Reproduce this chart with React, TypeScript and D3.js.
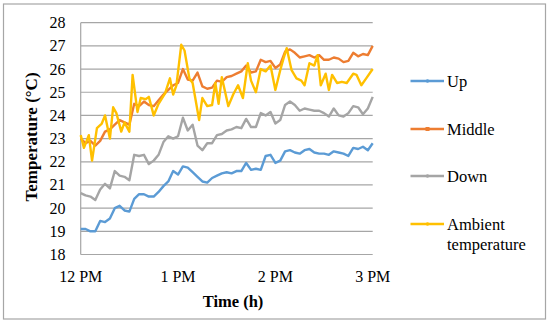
import * as d3 from 'd3';
import React, { useRef, useEffect } from 'react';

const width = 550;
const height = 323;
const plot = { left: 80.7, right: 372.7, top: 22.7, bottom: 254.5 };

// minutes after 12 PM, every 3 minutes
const minutes = d3.range(0, 181, 3);
const timeTicks = [0, 60, 120, 180];
const timeLabels = ['12 PM', '1 PM', '2 PM', '3 PM'];
const tempTicks = [18, 19, 20, 21, 22, 23, 24, 25, 26, 27, 28];

const up = [19.1, 19.1, 19.0, 19.0, 19.45, 19.4, 19.55, 20.0, 20.1, 19.9,
    19.85, 20.4, 20.6, 20.6, 20.5, 20.5, 20.7, 20.95, 21.15, 21.6,
    21.45, 21.8, 21.75, 21.55, 21.35, 21.15, 21.1, 21.3, 21.4, 21.5,
    21.55, 21.5, 21.6, 21.6, 21.95, 21.65, 21.7, 21.65, 22.25, 22.3,
    21.95, 22.05, 22.45, 22.5, 22.4, 22.35, 22.5, 22.55, 22.4, 22.35,
    22.35, 22.3, 22.45, 22.4, 22.35, 22.25, 22.6, 22.55, 22.65, 22.5, 22.8];

const middle = [23.0, 22.8, 22.9, 22.7, 22.9, 23.3, 23.4, 23.6, 23.8, 23.7,
    23.6, 24.5, 24.4, 24.6, 24.45, 24.4, 24.65, 24.9, 25.1, 25.3,
    25.4, 26.0, 25.55, 25.5, 25.85, 25.25, 25.15, 25.2, 25.5, 25.45,
    25.65, 25.7, 25.8, 25.9, 26.15, 25.85, 25.9, 26.4, 26.3, 26.35,
    26.05, 26.2, 26.75, 26.85, 26.7, 26.5, 26.55, 26.6, 26.5, 26.6,
    26.4, 26.4, 26.5, 26.45, 26.3, 26.35, 26.7, 26.55, 26.65, 26.6, 27.0];

const down = [20.65, 20.55, 20.5, 20.35, 20.8, 21.05, 20.85, 21.6, 21.4, 21.35,
    21.2, 22.3, 22.25, 22.3, 21.9, 22.05, 22.3, 22.85, 23.1, 23.0,
    23.1, 23.9, 23.35, 23.6, 22.7, 22.5, 22.8, 22.8, 23.15, 23.2,
    23.35, 23.4, 23.5, 23.45, 23.85, 23.5, 23.5, 24.1, 24.0, 24.15,
    23.65, 23.8, 24.45, 24.6, 24.45, 24.2, 24.3, 24.25, 24.2, 24.2,
    24.1, 23.95, 24.3, 24.0, 23.95, 24.1, 24.4, 24.35, 24.05, 24.3, 24.8];

// ambient is spikier, read at its own times
const ambientMinutes = [0, 2, 5, 7, 10, 13, 15, 18, 20, 22,
    25, 27, 30, 32, 35, 37, 40, 42, 45, 48,
    52, 55, 57, 59, 62, 64, 67, 69, 73, 75,
    78, 81, 83, 85, 87, 91, 94, 97, 100, 103,
    105, 108, 111, 114, 117, 120, 123, 125, 127, 130,
    133, 136, 138, 141, 144, 146, 148, 151, 153, 155,
    158, 161, 164, 168, 170, 173, 176, 180];
const ambient = [23.15, 22.6, 23.15, 22.05, 23.45, 23.65, 24.0, 23.0, 24.35, 24.1,
    23.3, 23.7, 23.3, 25.75, 24.15, 24.75, 24.7, 24.8, 24.0, 24.5,
    24.95, 25.6, 24.9, 25.3, 27.05, 26.8, 25.6, 25.4, 23.8, 24.75,
    24.4, 24.45, 25.4, 24.5, 25.65, 24.4, 24.9, 25.3, 24.75, 26.25,
    25.5, 25.0, 26.0, 25.9, 26.15, 25.1, 25.95, 26.45, 26.9, 25.95,
    25.6, 25.5, 25.3, 26.25, 26.15, 26.6, 25.3, 25.8, 25.1, 25.75,
    25.4, 25.45, 25.4, 25.8, 25.75, 25.3, 25.6, 26.0];

const seriesNames = ['Up', 'Middle', 'Down', 'Ambient temperature'];
const seriesColors = ['#5b9bd5', '#ed7d31', '#a5a5a5', '#ffc000'];

const font = 'Liberation Serif, DejaVu Serif, serif';

function TempChart() {
    const ref = useRef(null);

    useEffect(() => {
        const svg = d3.select(ref.current);
        svg.selectAll('*').remove();

        const x = d3.scaleLinear().domain([0, 180]).range([plot.left, plot.right]);
        const y = d3.scaleLinear().domain([18, 28]).range([plot.bottom, plot.top]);

        svg.append('rect')
            .attr('x', 3.5).attr('y', 4)
            .attr('width', 542).attr('height', 315)
            .attr('fill', 'white')
            .attr('stroke', '#a6a6a6')
            .attr('stroke-width', 1.2);

        // gridlines
        svg.append('g')
            .selectAll('line')
            .data(tempTicks)
            .enter()
            .append('line')
            .attr('x1', plot.left).attr('x2', plot.right)
            .attr('y1', d => y(d)).attr('y2', d => y(d))
            .attr('stroke', '#a6a6a6')
            .attr('stroke-width', 1.2);

        svg.append('line')
            .attr('x1', plot.left).attr('x2', plot.left)
            .attr('y1', plot.top).attr('y2', plot.bottom)
            .attr('stroke', '#a6a6a6')
            .attr('stroke-width', 1.2);

        svg.append('g')
            .selectAll('text')
            .data(tempTicks)
            .enter()
            .append('text')
            .attr('x', 65.5)
            .attr('y', d => y(d) + 5.5)
            .attr('text-anchor', 'end')
            .attr('font-family', font)
            .attr('font-size', 16)
            .text(d => d);

        svg.append('g')
            .selectAll('text')
            .data(timeTicks)
            .enter()
            .append('text')
            .attr('x', d => x(d))
            .attr('y', 281.5)
            .attr('text-anchor', 'middle')
            .attr('font-family', font)
            .attr('font-size', 16)
            .text((d, i) => timeLabels[i]);

        svg.append('text')
            .attr('x', 233)
            .attr('y', 306.5)
            .attr('text-anchor', 'middle')
            .attr('font-family', font)
            .attr('font-size', 16.5)
            .attr('font-weight', 'bold')
            .text('Time (h)');

        svg.append('text')
            .attr('transform', 'translate(37,137) rotate(-90)')
            .attr('text-anchor', 'middle')
            .attr('font-family', font)
            .attr('font-size', 17)
            .attr('font-weight', 'bold')
            .text('Temperature (°C)');

        const line = d3.line()
            .x(d => x(d[0]))
            .y(d => y(d[1]));

        const series = [
            d3.zip(minutes, up),
            d3.zip(minutes, middle),
            d3.zip(minutes, down),
            d3.zip(ambientMinutes, ambient)
        ];

        series.forEach((pts, i) => {
            svg.append('path')
                .datum(pts)
                .attr('d', line)
                .attr('fill', 'none')
                .attr('stroke', seriesColors[i])
                .attr('stroke-width', 2.4)
                .attr('stroke-linejoin', 'round');
        });

        // legend
        const legendY = [81, 129, 176, 224];
        seriesNames.forEach((name, i) => {
            const g = svg.append('g');
            g.append('line')
                .attr('x1', 410.5).attr('x2', 444)
                .attr('y1', legendY[i]).attr('y2', legendY[i])
                .attr('stroke', seriesColors[i])
                .attr('stroke-width', 2.4);
            if (i === 1) {
                g.append('rect')
                    .attr('x', 425.5).attr('y', legendY[i] - 2)
                    .attr('width', 4).attr('height', 4)
                    .attr('fill', seriesColors[i]);
            } else {
                g.append('circle')
                    .attr('cx', 427.5).attr('cy', legendY[i])
                    .attr('r', 1.8)
                    .attr('fill', seriesColors[i]);
            }
            const t = g.append('text')
                .attr('x', 447)
                .attr('y', legendY[i] + 5.5)
                .attr('font-family', font)
                .attr('font-size', 16.5);
            if (i === 3) {
                t.text('Ambient');
                g.append('text')
                    .attr('x', 447)
                    .attr('y', legendY[i] + 25.5)
                    .attr('font-family', font)
                    .attr('font-size', 16.5)
                    .text('temperature');
            } else {
                t.text(name);
            }
        });
    }, []);

    return (
        <svg ref={ref} width={width} height={height} style={{ display: 'block' }}></svg>
    );
}

export default function App() {
    return (
        <div style={{ position: 'absolute', left: 0, top: 0, background: 'white' }}>
            <TempChart />
        </div>
    );
}
